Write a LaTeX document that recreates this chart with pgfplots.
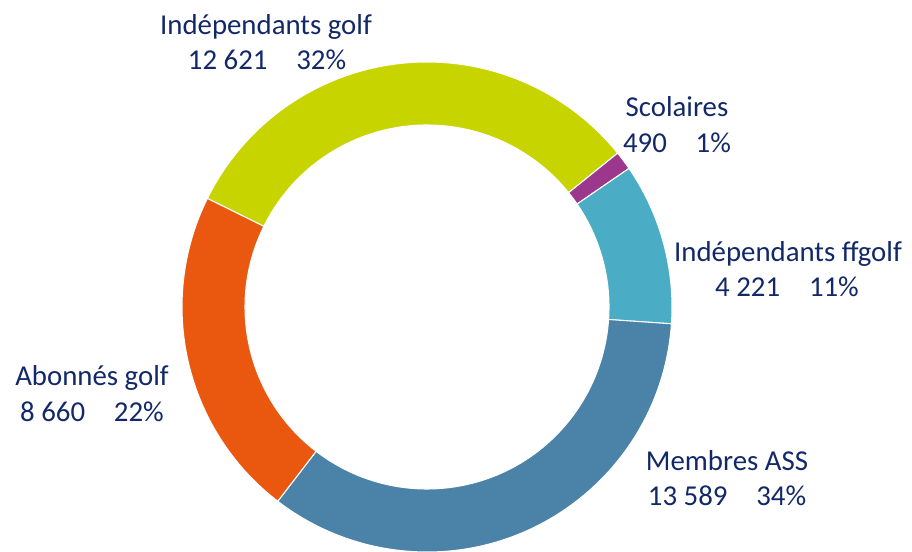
\documentclass[border=0pt]{standalone}
\usepackage{fontspec}
\setmainfont{Carlito}
\usepackage{pgfplots}
\usepackage{pgfplotstable}
\pgfplotsset{compat=1.18}

\definecolor{cIG}{RGB}{200,212,0}
\definecolor{cSc}{RGB}{155,55,140}
\definecolor{cFF}{RGB}{75,172,198}
\definecolor{cMA}{RGB}{74,130,168}
\definecolor{cAG}{RGB}{234,88,16}
\definecolor{txt}{RGB}{18,40,105}

% slices, clockwise from the golf/abonnés boundary
\pgfplotstableread[col sep=comma]{
name,value,color
IG,12621,cIG
Sc,490,cSc
FF,4221,cFF
MA,13589,cMA
AG,8660,cAG
}\donut

\def\Ro{2.45}
\def\Ri{1.82}

\begin{document}
\begin{tikzpicture}
\useasboundingbox (0,0) rectangle (9.12cm,5.52cm);

% angles of the slice boundaries (values in thousands to stay in range)
\pgfmathsetmacro\total{0}
\pgfplotsforeachungrouped \i in {0,...,4}{%
  \pgfplotstablegetelem{\i}{value}\of\donut
  \pgfmathsetmacro\total{\total+\pgfplotsretval/1000}%
}
\pgfmathsetmacro\cum{153.7}
\expandafter\let\csname ang0\endcsname\cum
\pgfplotsforeachungrouped \i in {0,...,4}{%
  \pgfplotstablegetelem{\i}{value}\of\donut
  \pgfmathsetmacro\cum{\cum-360*(\pgfplotsretval/1000)/\total}%
  \pgfmathtruncatemacro\j{\i+1}%
  \expandafter\global\expandafter\let\csname ang\j\endcsname\cum
}

\begin{axis}[
    at={(0,0)}, anchor=south west,
    x=1cm, y=1cm,
    scale only axis,
    xmin=-4.27, xmax=4.85,
    ymin=-2.45, ymax=3.07,
    hide axis,
    clip=false,
]
\pgfplotsinvokeforeach{0,...,4}{%
  \pgfplotstablegetelem{#1}{color}\of\donut
  \let\col\pgfplotsretval
  \pgfmathtruncatemacro\nxt{#1+1}%
  \edef\a{\csname ang#1\endcsname}%
  \edef\b{\csname ang\nxt\endcsname}%
  \edef\cmd{\noexpand\fill[\col, draw=white, line width=0.3pt]
    (axis cs:{\Ro*cos(\a)},{\Ro*sin(\a)})
    arc[start angle=\a, end angle=\b, radius=\Ro]
    -- (axis cs:{\Ri*cos(\b)},{\Ri*sin(\b)})
    arc[start angle=\b, end angle=\a, radius=\Ri] -- cycle;}%
  \cmd
}

\tikzset{lbl/.style={anchor=base, text=txt, inner sep=0pt,
    font=\fontsize{8.2}{9.8}\selectfont}}
\node[lbl] at (axis cs:-1.61,2.72) {Indépendants golf};
\node[lbl] at (axis cs:-1.60,2.37) {12 621\hspace{1em}32\%};
\node[lbl] at (axis cs:2.50,1.90) {Scolaires};
\node[lbl] at (axis cs:2.50,1.54) {490\hspace{1em}1\%};
\node[lbl] at (axis cs:3.61,0.45) {Indépendants ffgolf};
\node[lbl] at (axis cs:3.60,0.10) {4 221\hspace{1em}11\%};
\node[lbl] at (axis cs:-3.35,-0.79) {Abonnés golf};
\node[lbl] at (axis cs:-3.35,-1.15) {8 660\hspace{1em}22\%};
\node[lbl] at (axis cs:3.00,-1.64) {Membres ASS};
\node[lbl] at (axis cs:3.00,-1.99) {13 589\hspace{1em}34\%};
\end{axis}
\end{tikzpicture}
\end{document}
